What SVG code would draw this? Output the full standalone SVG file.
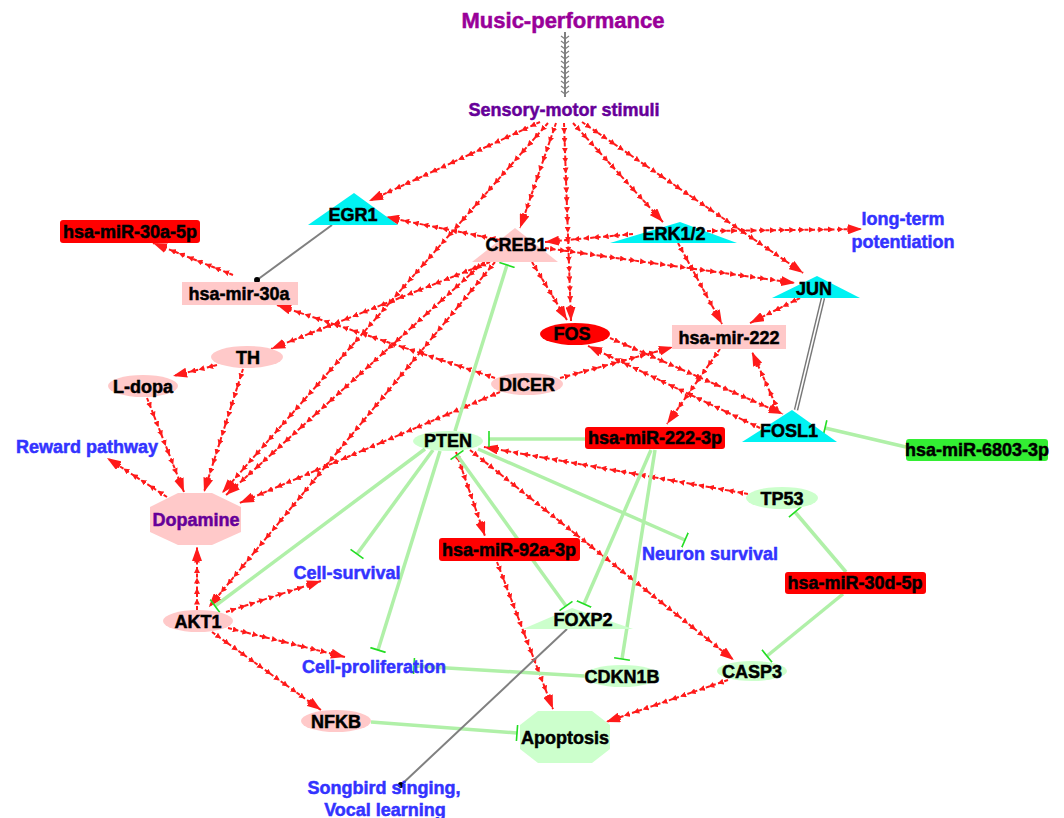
<svg xmlns="http://www.w3.org/2000/svg" width="1064" height="818" viewBox="0 0 1064 818">
<style>
.lbl{font-family:"Liberation Sans",Arial,sans-serif;font-weight:bold;font-size:18px;text-anchor:middle;fill:#000;stroke:#000;stroke-width:0.5}
.blue{font-family:"Liberation Sans",Arial,sans-serif;font-weight:bold;font-size:18px;text-anchor:middle;fill:#3333ff;stroke:#3333ff;stroke-width:0.5}
.pink{fill:#ffc9c9}
.lg{fill:#ccffcc}
.cyan{fill:#00f2f2}
.redn{fill:#ff0000}
.act{fill:none;stroke:#ff1a1a;stroke-width:2;stroke-dasharray:4 2.5;marker-mid:url(#am);marker-end:url(#arr)}
.inh{fill:none;stroke:#b0f0a8;stroke-width:3.5;marker-end:url(#tee)}
.gray{fill:none;stroke:#808080;stroke-width:2}
</style>
<defs>
<marker id="arr" viewBox="0 0 14 10" refX="14" refY="5" markerWidth="14" markerHeight="10" markerUnits="userSpaceOnUse" orient="auto">
<path d="M0,0 L14,5 L0,10 z" fill="#ff1a1a"/>
</marker>
<marker id="am" viewBox="0 0 6 6" refX="5" refY="3" markerWidth="6" markerHeight="6" markerUnits="userSpaceOnUse" orient="auto">
<path d="M0,0 L6,3 L0,6 z" fill="#ff1a1a"/>
</marker>
<marker id="tee" viewBox="0 0 4 16" refX="2" refY="8" markerWidth="4" markerHeight="16" markerUnits="userSpaceOnUse" orient="auto">
<path d="M2,0 L2,16" stroke="#22dd22" stroke-width="1.6"/>
</marker>
<marker id="teeS" viewBox="0 0 4 16" refX="2" refY="8" markerWidth="4" markerHeight="16" markerUnits="userSpaceOnUse" orient="auto-start-reverse">
<path d="M2,0 L2,16" stroke="#22dd22" stroke-width="1.6"/>
</marker>
</defs>
<rect width="1064" height="818" fill="#fff"/>

<g id="connectors">
<path class="gray" d="M565,32 L565,97"/>
<path fill="none" stroke="#808080" stroke-width="1.2" d="M561,36 L565,39 L569,36 M561,41 L565,44 L569,41 M561,46 L565,49 L569,46 M561,51 L565,54 L569,51 M561,56 L565,59 L569,56 M561,61 L565,64 L569,61 M561,66 L565,69 L569,66 M561,71 L565,74 L569,71 M561,76 L565,79 L569,76 M561,81 L565,84 L569,81 M561,86 L565,89 L569,86 M561,91 L565,94 L569,91"/>
<path class="act" d="M540,122 l-9,4.16 -9,4.16 -9,4.16 -9,4.16 -9,4.16 -9,4.16 -9,4.16 -9,4.16 -9,4.16 -9,4.16 -9,4.16 -9,4.16 -9,4.16 -9,4.16 -9,4.16 -9,4.16 -9,4.16 -9,4.16 -9,4.16"/>
<path class="act" d="M548,123 l-6.65,7.55 -6.65,7.55 -6.65,7.55 -6.65,7.55 -6.65,7.55 -6.65,7.55 -6.65,7.55 -6.65,7.55 -6.65,7.55 -6.65,7.55 -6.65,7.55 -6.65,7.55 -6.65,7.55 -6.65,7.55 -6.65,7.55 -6.65,7.55 -6.65,7.55 -6.65,7.55 -6.65,7.55 -6.65,7.55 -6.65,7.55 -6.65,7.55 -6.65,7.55 -6.65,7.55 -6.65,7.55 -6.65,7.55 -6.65,7.55 -6.65,7.55 -6.65,7.55 -6.65,7.55 -6.65,7.55 -6.65,7.55 -6.65,7.55 -6.65,7.55 -6.65,7.55 -6.65,7.55 -6.65,7.55 -6.65,7.55 -6.65,7.55 -6.65,7.55 -6.65,7.55 -6.65,7.55 -6.65,7.55 -6.65,7.55 -6.65,7.55 -6.65,7.55 -6.65,7.55 -6.65,7.55 -6.65,7.55"/>
<path class="act" d="M556,123 l-3.27,9.55 -3.27,9.55 -3.27,9.55 -3.27,9.55 -3.27,9.55 -3.27,9.55 -3.27,9.55 -3.27,9.55 -3.27,9.55 -3.27,9.55 -3.27,9.55"/>
<path class="act" d="M564,123 l0.35,9.9 0.35,9.9 0.35,9.9 0.35,9.9 0.35,9.9 0.35,9.9 0.35,9.9 0.35,9.9 0.35,9.9 0.35,9.9 0.35,9.9 0.35,9.9 0.35,9.9 0.35,9.9 0.35,9.9 0.35,9.9 0.35,9.9 0.35,9.9 0.35,9.9 0.35,9.9"/>
<path class="act" d="M573,123 l6.92,7.62 6.92,7.62 6.92,7.62 6.92,7.62 6.92,7.62 6.92,7.62 6.92,7.62 6.92,7.62 6.92,7.62 6.92,7.62 6.92,7.62 6.92,7.62 6.92,7.62"/>
<path class="act" d="M582,122 l8.19,5.59 8.19,5.59 8.19,5.59 8.19,5.59 8.19,5.59 8.19,5.59 8.19,5.59 8.19,5.59 8.19,5.59 8.19,5.59 8.19,5.59 8.19,5.59 8.19,5.59 8.19,5.59 8.19,5.59 8.19,5.59 8.19,5.59 8.19,5.59 8.19,5.59 8.19,5.59 8.19,5.59 8.19,5.59 8.19,5.59 8.19,5.59 8.19,5.59 8.19,5.59 8.19,5.59"/>
<path class="act" d="M500,240 l-9.58,-1.92 -9.58,-1.92 -9.58,-1.92 -9.58,-1.92 -9.58,-1.92 -9.58,-1.92 -9.58,-1.92 -9.58,-1.92 -9.58,-1.92 -9.58,-1.92 -9.58,-1.92 -9.58,-1.92"/>
<path class="act" d="M545,248 l10,1.4 10,1.4 10,1.4 10,1.4 10,1.4 10,1.4 10,1.4 10,1.4 10,1.4 10,1.4 10,1.4 10,1.4 10,1.4 10,1.4 10,1.4 10,1.4 10,1.4 10,1.4 10,1.4 10,1.4 10,1.4 10,1.4 10,1.4 10,1.4 10,1.4"/>
<path class="act" d="M633,234 l-9.78,0.89 -9.78,0.89 -9.78,0.89 -9.78,0.89 -9.78,0.89 -9.78,0.89 -9.78,0.89 -9.78,0.89 -9.78,0.89"/>
<path class="act" d="M707,231 l9.69,-0.12 9.69,-0.12 9.69,-0.12 9.69,-0.12 9.69,-0.12 9.69,-0.12 9.69,-0.12 9.69,-0.12 9.69,-0.12 9.69,-0.12 9.69,-0.12 9.69,-0.12 9.69,-0.12 9.69,-0.12 9.69,-0.12 9.69,-0.12"/>
<path class="act" d="M678,243 l4.89,9 4.89,9 4.89,9 4.89,9 4.89,9 4.89,9 4.89,9 4.89,9 4.89,9"/>
<path class="act" d="M800,298 l-8.33,4.17 -8.33,4.17 -8.33,4.17 -8.33,4.17 -8.33,4.17 -8.33,4.17"/>
<path class="act" d="M532,262 l5,8.29 5,8.29 5,8.29 5,8.29 5,8.29 5,8.29 5,8.29"/>
<path class="act" d="M490,262 l-9.12,3.62 -9.12,3.62 -9.12,3.62 -9.12,3.62 -9.12,3.62 -9.12,3.62 -9.12,3.62 -9.12,3.62 -9.12,3.62 -9.12,3.62 -9.12,3.62 -9.12,3.62 -9.12,3.62 -9.12,3.62 -9.12,3.62 -9.12,3.62 -9.12,3.62 -9.12,3.62 -9.12,3.62 -9.12,3.62 -9.12,3.62 -9.12,3.62 -9.12,3.62 -9.12,3.62"/>
<path class="act" d="M484,262 l-7.37,6.66 -7.37,6.66 -7.37,6.66 -7.37,6.66 -7.37,6.66 -7.37,6.66 -7.37,6.66 -7.37,6.66 -7.37,6.66 -7.37,6.66 -7.37,6.66 -7.37,6.66 -7.37,6.66 -7.37,6.66 -7.37,6.66 -7.37,6.66 -7.37,6.66 -7.37,6.66 -7.37,6.66 -7.37,6.66 -7.37,6.66 -7.37,6.66 -7.37,6.66 -7.37,6.66 -7.37,6.66 -7.37,6.66 -7.37,6.66 -7.37,6.66 -7.37,6.66 -7.37,6.66 -7.37,6.66 -7.37,6.66 -7.37,6.66 -7.37,6.66 -7.37,6.66"/>
<path class="act" d="M495,262 l-6.36,7.67 -6.36,7.67 -6.36,7.67 -6.36,7.67 -6.36,7.67 -6.36,7.67 -6.36,7.67 -6.36,7.67 -6.36,7.67 -6.36,7.67 -6.36,7.67 -6.36,7.67 -6.36,7.67 -6.36,7.67 -6.36,7.67 -6.36,7.67 -6.36,7.67 -6.36,7.67 -6.36,7.67 -6.36,7.67 -6.36,7.67 -6.36,7.67 -6.36,7.67 -6.36,7.67 -6.36,7.67 -6.36,7.67 -6.36,7.67 -6.36,7.67 -6.36,7.67 -6.36,7.67 -6.36,7.67 -6.36,7.67 -6.36,7.67 -6.36,7.67 -6.36,7.67 -6.36,7.67 -6.36,7.67 -6.36,7.67 -6.36,7.67 -6.36,7.67 -6.36,7.67 -6.36,7.67 -6.36,7.67 -6.36,7.67 -6.36,7.67"/>
<path class="act" d="M217,365 l-8.8,2.2 -8.8,2.2 -8.8,2.2 -8.8,2.2 -8.8,2.2"/>
<path class="act" d="M243,369 l-3,9.46 -3,9.46 -3,9.46 -3,9.46 -3,9.46 -3,9.46 -3,9.46 -3,9.46 -3,9.46 -3,9.46 -3,9.46 -3,9.46 -3,9.46"/>
<path class="act" d="M147,398 l3.7,9.4 3.7,9.4 3.7,9.4 3.7,9.4 3.7,9.4 3.7,9.4 3.7,9.4 3.7,9.4 3.7,9.4 3.7,9.4"/>
<path class="act" d="M167,497 l-8.57,-5.57 -8.57,-5.57 -8.57,-5.57 -8.57,-5.57 -8.57,-5.57 -8.57,-5.57 -8.57,-5.57"/>
<path class="act" d="M500,392 l-9.29,3.96 -9.29,3.96 -9.29,3.96 -9.29,3.96 -9.29,3.96 -9.29,3.96 -9.29,3.96 -9.29,3.96 -9.29,3.96 -9.29,3.96 -9.29,3.96 -9.29,3.96 -9.29,3.96 -9.29,3.96 -9.29,3.96 -9.29,3.96 -9.29,3.96 -9.29,3.96 -9.29,3.96 -9.29,3.96 -9.29,3.96 -9.29,3.96 -9.29,3.96 -9.29,3.96 -9.29,3.96 -9.29,3.96 -9.29,3.96 -9.29,3.96"/>
<path class="act" d="M495,378 l-9.48,-3.17 -9.48,-3.17 -9.48,-3.17 -9.48,-3.17 -9.48,-3.17 -9.48,-3.17 -9.48,-3.17 -9.48,-3.17 -9.48,-3.17 -9.48,-3.17 -9.48,-3.17 -9.48,-3.17 -9.48,-3.17 -9.48,-3.17 -9.48,-3.17 -9.48,-3.17 -9.48,-3.17 -9.48,-3.17 -9.48,-3.17 -9.48,-3.17 -9.48,-3.17 -9.48,-3.17 -9.48,-3.17"/>
<path class="act" d="M560,378 l9.42,-2.58 9.42,-2.58 9.42,-2.58 9.42,-2.58 9.42,-2.58 9.42,-2.58 9.42,-2.58 9.42,-2.58 9.42,-2.58 9.42,-2.58 9.42,-2.58 9.42,-2.58"/>
<path class="act" d="M233,275 l-8.89,-3.56 -8.89,-3.56 -8.89,-3.56 -8.89,-3.56 -8.89,-3.56 -8.89,-3.56 -8.89,-3.56 -8.89,-3.56 -8.89,-3.56"/>
<path class="act" d="M720,349 l-5.89,8.33 -5.89,8.33 -5.89,8.33 -5.89,8.33 -5.89,8.33 -5.89,8.33 -5.89,8.33 -5.89,8.33 -5.89,8.33"/>
<path class="act" d="M610,338 l9.1,4 9.1,4 9.1,4 9.1,4 9.1,4 9.1,4 9.1,4 9.1,4 9.1,4 9.1,4 9.1,4 9.1,4 9.1,4 9.1,4 9.1,4 9.1,4 9.1,4 9.1,4 9.1,4"/>
<path class="act" d="M760,428 l-9.05,-4.32 -9.05,-4.32 -9.05,-4.32 -9.05,-4.32 -9.05,-4.32 -9.05,-4.32 -9.05,-4.32 -9.05,-4.32 -9.05,-4.32 -9.05,-4.32 -9.05,-4.32 -9.05,-4.32 -9.05,-4.32 -9.05,-4.32 -9.05,-4.32 -9.05,-4.32 -9.05,-4.32 -9.05,-4.32 -9.05,-4.32"/>
<path class="act" d="M778,410 l-4.33,-9.67 -4.33,-9.67 -4.33,-9.67 -4.33,-9.67 -4.33,-9.67 -4.33,-9.67"/>
<path class="act" d="M748,494 l-9.78,-1.74 -9.78,-1.74 -9.78,-1.74 -9.78,-1.74 -9.78,-1.74 -9.78,-1.74 -9.78,-1.74 -9.78,-1.74 -9.78,-1.74 -9.78,-1.74 -9.78,-1.74 -9.78,-1.74 -9.78,-1.74 -9.78,-1.74 -9.78,-1.74 -9.78,-1.74 -9.78,-1.74 -9.78,-1.74 -9.78,-1.74 -9.78,-1.74 -9.78,-1.74 -9.78,-1.74 -9.78,-1.74 -9.78,-1.74 -9.78,-1.74 -9.78,-1.74 -9.78,-1.74"/>
<path class="act" d="M470,450 l7.76,6.18 7.76,6.18 7.76,6.18 7.76,6.18 7.76,6.18 7.76,6.18 7.76,6.18 7.76,6.18 7.76,6.18 7.76,6.18 7.76,6.18 7.76,6.18 7.76,6.18 7.76,6.18 7.76,6.18 7.76,6.18 7.76,6.18 7.76,6.18 7.76,6.18 7.76,6.18 7.76,6.18 7.76,6.18 7.76,6.18 7.76,6.18 7.76,6.18 7.76,6.18 7.76,6.18 7.76,6.18 7.76,6.18 7.76,6.18 7.76,6.18 7.76,6.18 7.76,6.18 7.76,6.18"/>
<path class="act" d="M456,452 l3.22,9.33 3.22,9.33 3.22,9.33 3.22,9.33 3.22,9.33 3.22,9.33 3.22,9.33 3.22,9.33 3.22,9.33"/>
<path class="act" d="M497,562 l3.5,9.19 3.5,9.19 3.5,9.19 3.5,9.19 3.5,9.19 3.5,9.19 3.5,9.19 3.5,9.19 3.5,9.19 3.5,9.19 3.5,9.19 3.5,9.19 3.5,9.19 3.5,9.19 3.5,9.19 3.5,9.19"/>
<path class="act" d="M728,680 l-9.38,3.23 -9.38,3.23 -9.38,3.23 -9.38,3.23 -9.38,3.23 -9.38,3.23 -9.38,3.23 -9.38,3.23 -9.38,3.23 -9.38,3.23 -9.38,3.23 -9.38,3.23 -9.38,3.23"/>
<path class="act" d="M226,612 l9.5,-3.1 9.5,-3.1 9.5,-3.1 9.5,-3.1 9.5,-3.1 9.5,-3.1 9.5,-3.1 9.5,-3.1 9.5,-3.1 9.5,-3.1"/>
<path class="act" d="M228,628 l9.75,2.42 9.75,2.42 9.75,2.42 9.75,2.42 9.75,2.42 9.75,2.42 9.75,2.42 9.75,2.42 9.75,2.42 9.75,2.42 9.75,2.42 9.75,2.42"/>
<path class="act" d="M212,632 l8.38,6 8.38,6 8.38,6 8.38,6 8.38,6 8.38,6 8.38,6 8.38,6 8.38,6 8.38,6 8.38,6 8.38,6 8.38,6"/>
<path class="act" d="M197,610 l0,-10.5 0,-10.5 0,-10.5 0,-10.5 0,-10.5 0,-10.5"/>
<path class="inh" d="M455,431 L507,265"/>
<path class="inh" d="M585,439 L489,439"/>
<path class="inh" d="M651,450 L584,604"/>
<path class="inh" d="M655,450 L622,659"/>
<path class="inh" d="M906,447 L825,428"/>
<path class="inh" d="M846,572 L795,512"/>
<path class="inh" d="M843,594 L767,656"/>
<path class="inh" d="M478,449 L685,540"/>
<path class="inh" d="M433,450 L357,554"/>
<path class="inh" d="M440,451 L378,650"/>
<path class="inh" d="M425,449 L215,606"/>
<path class="inh" d="M457,455 L566,606" marker-start="url(#teeS)"/>
<path class="inh" d="M584,676 L414,666"/>
<path class="inh" d="M371,722 L517,733"/>
<path class="gray" d="M332,225 L257,280"/>
<circle cx="257" cy="280" r="3" fill="#000"/>
<path class="gray" d="M567,629 L401,785"/>
<circle cx="401" cy="785" r="3" fill="#000"/>
<path fill="none" stroke="#777" stroke-width="4.5" d="M823,298 L796,410"/>
<path fill="none" stroke="#fff" stroke-width="1.6" d="M823,298 L796,410"/>
</g>

<g id="music"><text x="563" y="28" style="font-family:'Liberation Sans',Arial,sans-serif;font-weight:bold;font-size:22px;fill:#990099;stroke:#990099;stroke-width:0.5" text-anchor="middle">Music-performance</text></g>
<g id="stimuli"><text x="564" y="116" style="font-family:'Liberation Sans',Arial,sans-serif;font-weight:bold;font-size:18px;fill:#660099;stroke:#660099;stroke-width:0.5" text-anchor="middle">Sensory-motor stimuli</text></g>

<g id="EGR1"><polygon class="cyan" points="354,193 308,225 398,225"/><text class="lbl" x="353" y="221">EGR1</text></g>
<g id="CREB1"><polygon class="pink" points="515,228 472,262 558,262"/><text class="lbl" x="516" y="251">CREB1</text></g>
<g id="ERK"><polygon class="cyan" points="680,222 610,243 737,243"/><text class="lbl" x="674" y="240">ERK1/2</text></g>
<g id="JUN"><polygon class="cyan" points="817,276 772,298 860,298"/><text class="lbl" x="814" y="295">JUN</text></g>
<g id="LTP"><text class="blue" x="903" y="225">long-term</text><text class="blue" x="903" y="248">potentiation</text></g>
<g id="miR30a5p"><rect class="redn" x="60" y="220" width="140" height="23" rx="3"/><text class="lbl" x="130" y="238">hsa-miR-30a-5p</text></g>
<g id="mir30a"><rect class="pink" x="182" y="282" width="116" height="23"/><text class="lbl" x="239" y="300">hsa-mir-30a</text></g>
<g id="FOS"><ellipse class="redn" cx="575" cy="334" rx="35" ry="11"/><text class="lbl" x="572" y="340">FOS</text></g>
<g id="mir222"><rect class="pink" x="672" y="325" width="114" height="24"/><text class="lbl" x="729" y="344">hsa-mir-222</text></g>
<g id="TH"><ellipse class="pink" cx="247" cy="357" rx="36" ry="11"/><text class="lbl" x="248" y="364">TH</text></g>
<g id="Ldopa"><ellipse class="pink" cx="143" cy="386" rx="35" ry="11"/><text class="lbl" x="143" y="393">L-dopa</text></g>
<g id="DICER"><ellipse class="pink" cx="527" cy="384" rx="36" ry="11"/><text class="lbl" x="527" y="391">DICER</text></g>
<g id="Reward"><text class="blue" x="87" y="453">Reward pathway</text></g>
<g id="Dopamine"><polygon class="pink" points="178,493 212,493 241,507 241,532 212,545 178,545 150,532 150,507"/><text class="lbl" x="196" y="526" style="fill:#660099;stroke:#660099">Dopamine</text></g>
<g id="PTEN"><ellipse class="lg" cx="448" cy="441" rx="35" ry="10"/><text class="lbl" x="448" y="447">PTEN</text></g>
<g id="miR222_3p"><rect class="redn" x="585" y="427" width="140" height="22" rx="3"/><text class="lbl" x="655" y="444">hsa-miR-222-3p</text></g>
<g id="FOSL1"><polygon class="cyan" points="792,410 742,442 837,442"/><text class="lbl" x="789" y="437">FOSL1</text></g>
<g id="miR6803"><rect x="906" y="439" width="142" height="22" rx="3" fill="#33ee33"/><text class="lbl" x="977" y="456">hsa-miR-6803-3p</text></g>
<g id="TP53"><ellipse class="lg" cx="782" cy="498" rx="36" ry="11"/><text class="lbl" x="782" y="505">TP53</text></g>
<g id="Neuron"><text class="blue" x="710" y="560">Neuron survival</text></g>
<g id="miR30d"><rect class="redn" x="785" y="572" width="141" height="22" rx="3"/><text class="lbl" x="855" y="589">hsa-miR-30d-5p</text></g>
<g id="miR92a"><rect class="redn" x="439" y="538" width="141" height="23" rx="3"/><text class="lbl" x="509" y="556">hsa-miR-92a-3p</text></g>
<g id="CellSurv"><text class="blue" x="347" y="579">Cell-survival</text></g>
<g id="AKT1"><ellipse class="pink" cx="198" cy="621" rx="35" ry="11"/><text class="lbl" x="198" y="628">AKT1</text></g>
<g id="FOXP2"><polygon class="lg" points="572,608 523,629 633,629"/><text class="lbl" x="583" y="626">FOXP2</text></g>
<g id="CellProl"><text class="blue" x="374" y="673">Cell-proliferation</text></g>
<g id="CDKN1B"><ellipse class="lg" cx="622" cy="676" rx="38" ry="11"/><text class="lbl" x="622" y="683">CDKN1B</text></g>
<g id="CASP3"><ellipse class="lg" cx="752" cy="671" rx="35" ry="10"/><text class="lbl" x="752" y="678">CASP3</text></g>
<g id="NFKB"><ellipse class="pink" cx="336" cy="721" rx="35" ry="11"/><text class="lbl" x="336" y="728">NFKB</text></g>
<g id="Apoptosis"><polygon class="lg" points="538,711 592,711 610,725 610,749 592,763 538,763 520,749 520,725"/><text class="lbl" x="565" y="744">Apoptosis</text></g>
<g id="Songbird"><text class="blue" x="384" y="794">Songbird singing,</text><text class="blue" x="385" y="816">Vocal learning</text></g>
</svg>
